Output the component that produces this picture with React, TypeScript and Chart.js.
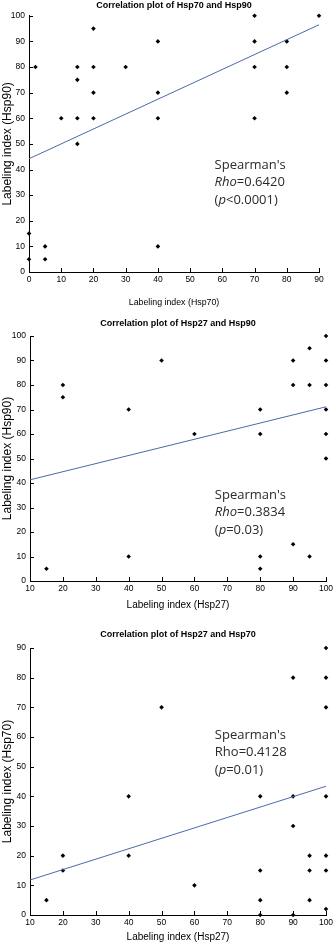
import React, { useEffect, useRef } from "react";
import { Chart, registerables } from "chart.js";
Chart.register(...registerables);

// ---------- Chart 1: Hsp70 vs Hsp90 ----------
const c1Title = "Correlation plot of Hsp70 and Hsp90";
const c1XLabel = "Labeling index (Hsp70)";
const c1YLabel = "Labeling index (Hsp90)";
const c1X = [2, 10, 15, 15, 15, 15, 20, 20, 20, 20, 30, 40, 40, 40, 40, 70, 70, 70, 70, 80, 80, 80, 90, 0, 0, 5, 5];
const c1Y = [80, 60, 80, 75, 60, 50, 95, 80, 70, 60, 80, 90, 70, 60, 10, 100, 90, 80, 60, 90, 80, 70, 100, 15, 5, 10, 5];
const c1FitX = [0, 90];
const c1FitY = [44.2, 96.5];
const c1Stats = [
  [{ t: "Spearman's" }],
  [{ t: "Rho", i: true }, { t: "=0.6420" }],
  [{ t: "(" }, { t: "p", i: true }, { t: "<0.0001)" }],
];

// ---------- Chart 2: Hsp27 vs Hsp90 ----------
const c2Title = "Correlation plot of Hsp27 and Hsp90";
const c2XLabel = "Labeling index (Hsp27)";
const c2YLabel = "Labeling index (Hsp90)";
const c2X = [15, 20, 20, 40, 40, 50, 60, 80, 80, 80, 80, 90, 90, 90, 95, 95, 95, 100, 100, 100, 100, 100, 100];
const c2Y = [5, 80, 75, 70, 10, 90, 60, 70, 60, 10, 5, 90, 80, 15, 95, 80, 10, 100, 90, 80, 70, 60, 50];
const c2FitX = [10, 100];
const c2FitY = [41.3, 71.1];
const c2Stats = [
  [{ t: "Spearman's" }],
  [{ t: "Rho", i: true }, { t: "=0.3834" }],
  [{ t: "(" }, { t: "p", i: true }, { t: "=0.03)" }],
];

// ---------- Chart 3: Hsp27 vs Hsp70 ----------
const c3Title = "Correlation plot of Hsp27 and Hsp70";
const c3XLabel = "Labeling index (Hsp27)";
const c3YLabel = "Labeling index (Hsp70)";
const c3X = [15, 20, 20, 40, 40, 50, 60, 80, 80, 80, 80, 90, 90, 90, 90, 95, 95, 95, 100, 100, 100, 100, 100, 100, 100];
const c3Y = [5, 20, 15, 40, 20, 70, 10, 40, 15, 5, 0, 80, 40, 30, 0, 20, 15, 5, 90, 80, 70, 40, 20, 15, 2];
const c3FitX = [10, 100];
const c3FitY = [11.8, 43.4];
const c3Stats = [
  [{ t: "Spearman's" }],
  [{ t: "Rho=0.4128" }],
  [{ t: "(" }, { t: "p", i: true }, { t: "=0.01)" }],
];

const FONT = "'Liberation Sans', Arial, sans-serif";

const statsPlugin = {
  id: "statsText",
  afterDatasetsDraw(chart: any, _args: any, opts: any) {
    if (!opts || !opts.lines) return;
    const { ctx, scales } = chart;
    const px = scales.x.getPixelForValue(opts.x);
    let py = scales.y.getPixelForValue(opts.y);
    ctx.save();
    ctx.fillStyle = "#2a2a2a";
    ctx.textBaseline = "middle";
    ctx.textAlign = "left";
    for (const line of opts.lines) {
      let cx = px;
      for (const seg of line) {
        ctx.font = `${seg.i ? "italic " : ""}13px 'Open Sans', sans-serif`;
        ctx.fillText(seg.t, cx, py);
        cx += ctx.measureText(seg.t).width;
      }
      py += opts.lineHeight;
    }
    ctx.restore();
  },
};

// inward tick marks on both axes
const innerTicksPlugin = {
  id: "innerTicks",
  afterDraw(chart: any, _args: any, opts: any) {
    const { ctx, scales, chartArea } = chart;
    const len = (opts && opts.length) || 4;
    ctx.save();
    ctx.strokeStyle = "#000";
    ctx.lineWidth = 1;
    ctx.beginPath();
    for (const t of scales.x.ticks) {
      const p = Math.round(scales.x.getPixelForValue(t.value)) + 0.5;
      ctx.moveTo(p, chartArea.bottom);
      ctx.lineTo(p, chartArea.bottom - len);
    }
    for (const t of scales.y.ticks) {
      const p = Math.round(scales.y.getPixelForValue(t.value)) + 0.5;
      ctx.moveTo(chartArea.left, p);
      ctx.lineTo(chartArea.left + len, p);
    }
    ctx.stroke();
    ctx.restore();
  },
};

type Spec = {
  title: string;
  xLabel: string;
  yLabel: string;
  xs: number[];
  ys: number[];
  fitX: number[];
  fitY: number[];
  stats: any[];
  statsX: number;
  statsY: number;
  xMin: number;
  xMax: number;
  yMax: number;
  width: number;
  height: number;
  titlePadTop: number;
  titlePadBottom: number;
  yWidth: number;
  xHeight: number;
  xTitlePadBottom: number;
  rightPad: number;
  titleSize: number;
  tickSize: number;
  xTitleSize: number;
  yTitleSize: number;
};

function ScatterPanel({ spec, top }: { spec: Spec; top: number }) {
  const ref = useRef<HTMLCanvasElement>(null);
  useEffect(() => {
    if (!ref.current) return;
    const s = spec;
    const points = s.xs.map((x, i) => ({ x, y: s.ys[i] }));
    const fit = s.fitX.map((x, i) => ({ x, y: s.fitY[i] }));
    const axisCommon = {
      type: "linear" as const,
      grid: {
        display: true,
        drawOnChartArea: false,
        drawTicks: false,
        color: "#000",
      },
      border: { display: true, color: "#000", width: 1 },
    };
    const chart = new Chart(ref.current, {
      type: "scatter",
      data: {
        datasets: [
          {
            data: fit,
            showLine: true,
            borderColor: "#4a6aa8",
            borderWidth: 1,
            pointRadius: 0,
            fill: false,
          },
          {
            data: points,
            pointStyle: "rectRot",
            pointRadius: 2.3,
            pointBackgroundColor: "#000",
            pointBorderColor: "#000",
            pointBorderWidth: 0,
            clip: 3,
          } as any,
        ],
      },
      options: {
        responsive: false,
        animation: false,
        devicePixelRatio: 1,
        layout: { padding: { left: 0, right: s.rightPad, top: 0, bottom: 0 } },
        plugins: {
          legend: { display: false },
          tooltip: { enabled: false },
          title: {
            display: true,
            fullSize: false,
            text: s.title,
            color: "#000",
            font: { family: FONT, size: s.titleSize, weight: "bold", lineHeight: 1.2 },
            padding: { top: s.titlePadTop, bottom: s.titlePadBottom },
          },
          statsText: {
            lines: s.stats,
            x: s.statsX,
            y: s.statsY,
            lineHeight: 17.5,
          },
          innerTicks: { length: 4 },
        } as any,
        scales: {
          x: {
            ...axisCommon,
            position: "bottom",
            min: s.xMin,
            max: s.xMax,
            ticks: {
              stepSize: 10,
              color: "#000",
              padding: 3,
              maxRotation: 0,
              font: { family: FONT, size: s.tickSize },
            },
            title: {
              display: true,
              text: s.xLabel,
              color: "#000",
              font: { family: FONT, size: s.xTitleSize, lineHeight: 1.2 },
              padding: { top: 0, bottom: s.xTitlePadBottom },
            },
            afterFit: (sc: any) => {
              sc.height = s.xHeight;
              sc.paddingLeft = 0;
              sc.paddingRight = 0;
            },
          },
          y: {
            ...axisCommon,
            position: "left",
            min: 0,
            max: s.yMax,
            ticks: {
              stepSize: 10,
              color: "#000",
              padding: 4,
              font: { family: FONT, size: s.tickSize },
            },
            title: {
              display: true,
              text: s.yLabel,
              color: "#000",
              font: { family: FONT, size: s.yTitleSize, lineHeight: 1.2 },
              padding: { top: 0, bottom: 0 },
            },
            afterFit: (sc: any) => {
              sc.width = s.yWidth;
              sc.paddingTop = 0;
              sc.paddingBottom = 0;
            },
          },
        } as any,
      },
      plugins: [statsPlugin, innerTicksPlugin],
    });
    return () => chart.destroy();
  }, [spec]);
  return (
    <canvas
      ref={ref}
      width={spec.width}
      height={spec.height}
      style={{ position: "absolute", left: 0, top, width: spec.width, height: spec.height }}
    />
  );
}

const spec1: Spec = {
  title: c1Title, xLabel: c1XLabel, yLabel: c1YLabel,
  xs: c1X, ys: c1Y, fitX: c1FitX, fitY: c1FitY, stats: c1Stats,
  statsX: 57.6, statsY: 41.7,
  xMin: 0, xMax: 90, yMax: 100,
  width: 334, height: 312,
  titlePadTop: 0, titlePadBottom: 5,
  yWidth: 29, xHeight: 40, xTitlePadBottom: 4, rightPad: 15,
  titleSize: 9, tickSize: 8.5, xTitleSize: 8.8, yTitleSize: 12,
};
const spec2: Spec = {
  title: c2Title, xLabel: c2XLabel, yLabel: c2YLabel,
  xs: c2X, ys: c2Y, fitX: c2FitX, fitY: c2FitY, stats: c2Stats,
  statsX: 66.2, statsY: 35,
  xMin: 10, xMax: 100, yMax: 100,
  width: 334, height: 300,
  titlePadTop: 6, titlePadBottom: 7.2,
  yWidth: 30, xHeight: 31, xTitlePadBottom: 1, rightPad: 8,
  titleSize: 9, tickSize: 8.5, xTitleSize: 10, yTitleSize: 12,
};
const spec3: Spec = {
  title: c3Title, xLabel: c3XLabel, yLabel: c3YLabel,
  xs: c3X, ys: c3Y, fitX: c3FitX, fitY: c3FitY, stats: c3Stats,
  statsX: 66.2, statsY: 60.6,
  xMin: 10, xMax: 100, yMax: 90,
  width: 334, height: 334,
  titlePadTop: 17, titlePadBottom: 8.2,
  yWidth: 30, xHeight: 31, xTitlePadBottom: 3, rightPad: 8,
  titleSize: 9, tickSize: 8.5, xTitleSize: 10, yTitleSize: 12,
};

export default function App() {
  return (
    <div style={{ position: "absolute", left: 0, top: 0, width: 334, height: 946, background: "#fff", overflow: "hidden" }}>
      <ScatterPanel spec={spec1} top={0} />
      <ScatterPanel spec={spec2} top={312} />
      <ScatterPanel spec={spec3} top={612} />
    </div>
  );
}
